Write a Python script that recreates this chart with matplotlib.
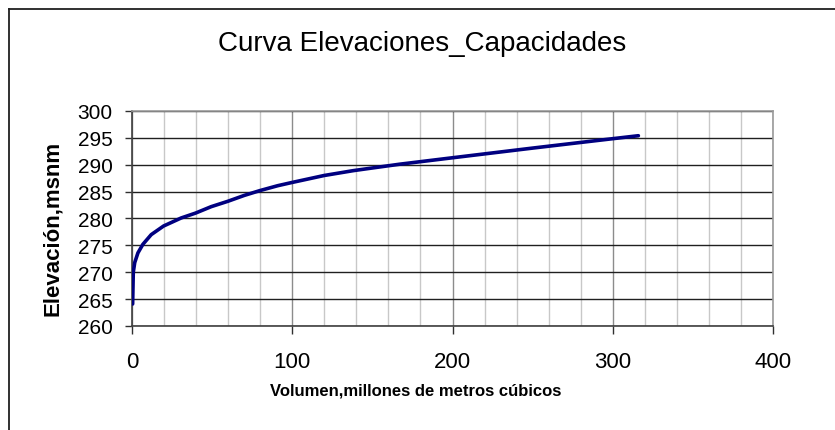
import matplotlib
matplotlib.use("Agg")
import matplotlib.pyplot as plt
from matplotlib.lines import Line2D
from matplotlib.ticker import MultipleLocator
from matplotlib import font_manager

plt.rcParams['font.family'] = ['Liberation Sans', 'DejaVu Sans']

volumen = [0.4, 0.8, 1.7, 3.7, 6.8, 12.0, 19.7, 30.7, 39.6, 49.4, 59.8, 70.1,
           79.9, 90.9, 99.8, 119.9, 138.0, 150.0, 167.0, 200.0, 250.0, 300.0, 316.0]
elevacion = [264.1, 270.0, 271.8, 273.6, 275.2, 277.0, 278.6, 280.1, 281.0, 282.2,
             283.2, 284.3, 285.2, 286.1, 286.7, 288.0, 288.9, 289.4, 290.1, 291.3,
             293.1, 294.85, 295.4]

x_ticks = [0, 100, 200, 300, 400]
y_ticks = [260, 265, 270, 275, 280, 285, 290, 295, 300]

title = "Curva Elevaciones_Capacidades"
xlabel = "Volumen,millones de metros cúbicos"
ylabel = "Elevación,msnm"

names = {f.name for f in font_manager.fontManager.ttflist}
if 'Liberation Sans Narrow' in names:
    xl_family, xl_size = ['Liberation Sans Narrow', 'DejaVu Sans'], 14.5
else:
    xl_family, xl_size = ['Liberation Sans', 'DejaVu Sans'], 12.0

W, H = 835, 431
fig = plt.figure(figsize=(W / 100, H / 100), dpi=100)
fig.patch.set_facecolor('white')

ax = fig.add_axes([132 / W, 1 - 327 / H, (773 - 132) / W, (327 - 112) / H])
ax.set_xlim(0, 400)
ax.set_ylim(260, 300)

ax.plot(volumen, elevacion, color='#000080', lw=2.6, solid_capstyle='round',
        solid_joinstyle='round', zorder=5)

ax.set_xticks(x_ticks)
ax.set_yticks(y_ticks)
ax.xaxis.set_minor_locator(MultipleLocator(20))
ax.grid(which='minor', axis='x', color='#c8c8c8', lw=1.0)
ax.grid(which='major', axis='x', color='#8c8c8c', lw=1.0)
ax.grid(which='major', axis='y', color='#202020', lw=1.0)
ax.set_axisbelow(True)

ax.tick_params(axis='x', which='major', direction='out', length=6, width=1,
               color='#303030', labelsize=16, pad=12)
ax.tick_params(axis='x', which='minor', length=0)
ax.tick_params(axis='y', which='major', direction='out', length=5, width=1,
               color='#303030', labelsize=15, pad=9)

for s in ['left', 'bottom']:
    ax.spines[s].set_color('#404040')
    ax.spines[s].set_linewidth(1.2)
for s in ['top', 'right']:
    ax.spines[s].set_color('#9a9a9a')
    ax.spines[s].set_linewidth(1.2)

fig.text(422 / W, 1 - 44 / H, title, ha='center', va='center', fontsize=20)
fig.text(416 / W, 1 - 391 / H, xlabel, ha='center', va='center',
         fontsize=xl_size, fontweight='bold', family=xl_family)
fig.text(53 / W, 1 - 228 / H, ylabel, ha='center', va='center', rotation=90,
         fontsize=16, fontweight='bold')

# outer chart border (top and left visible)
fig.add_artist(Line2D([9 / W, 1.0], [1 - 10 / H, 1 - 10 / H], color='#202020', lw=1.3,
                      transform=fig.transFigure))
fig.add_artist(Line2D([9 / W, 9 / W], [0.0, 1 - 10 / H], color='#202020', lw=1.3,
                      transform=fig.transFigure))

fig.savefig('out.png', dpi=100)
